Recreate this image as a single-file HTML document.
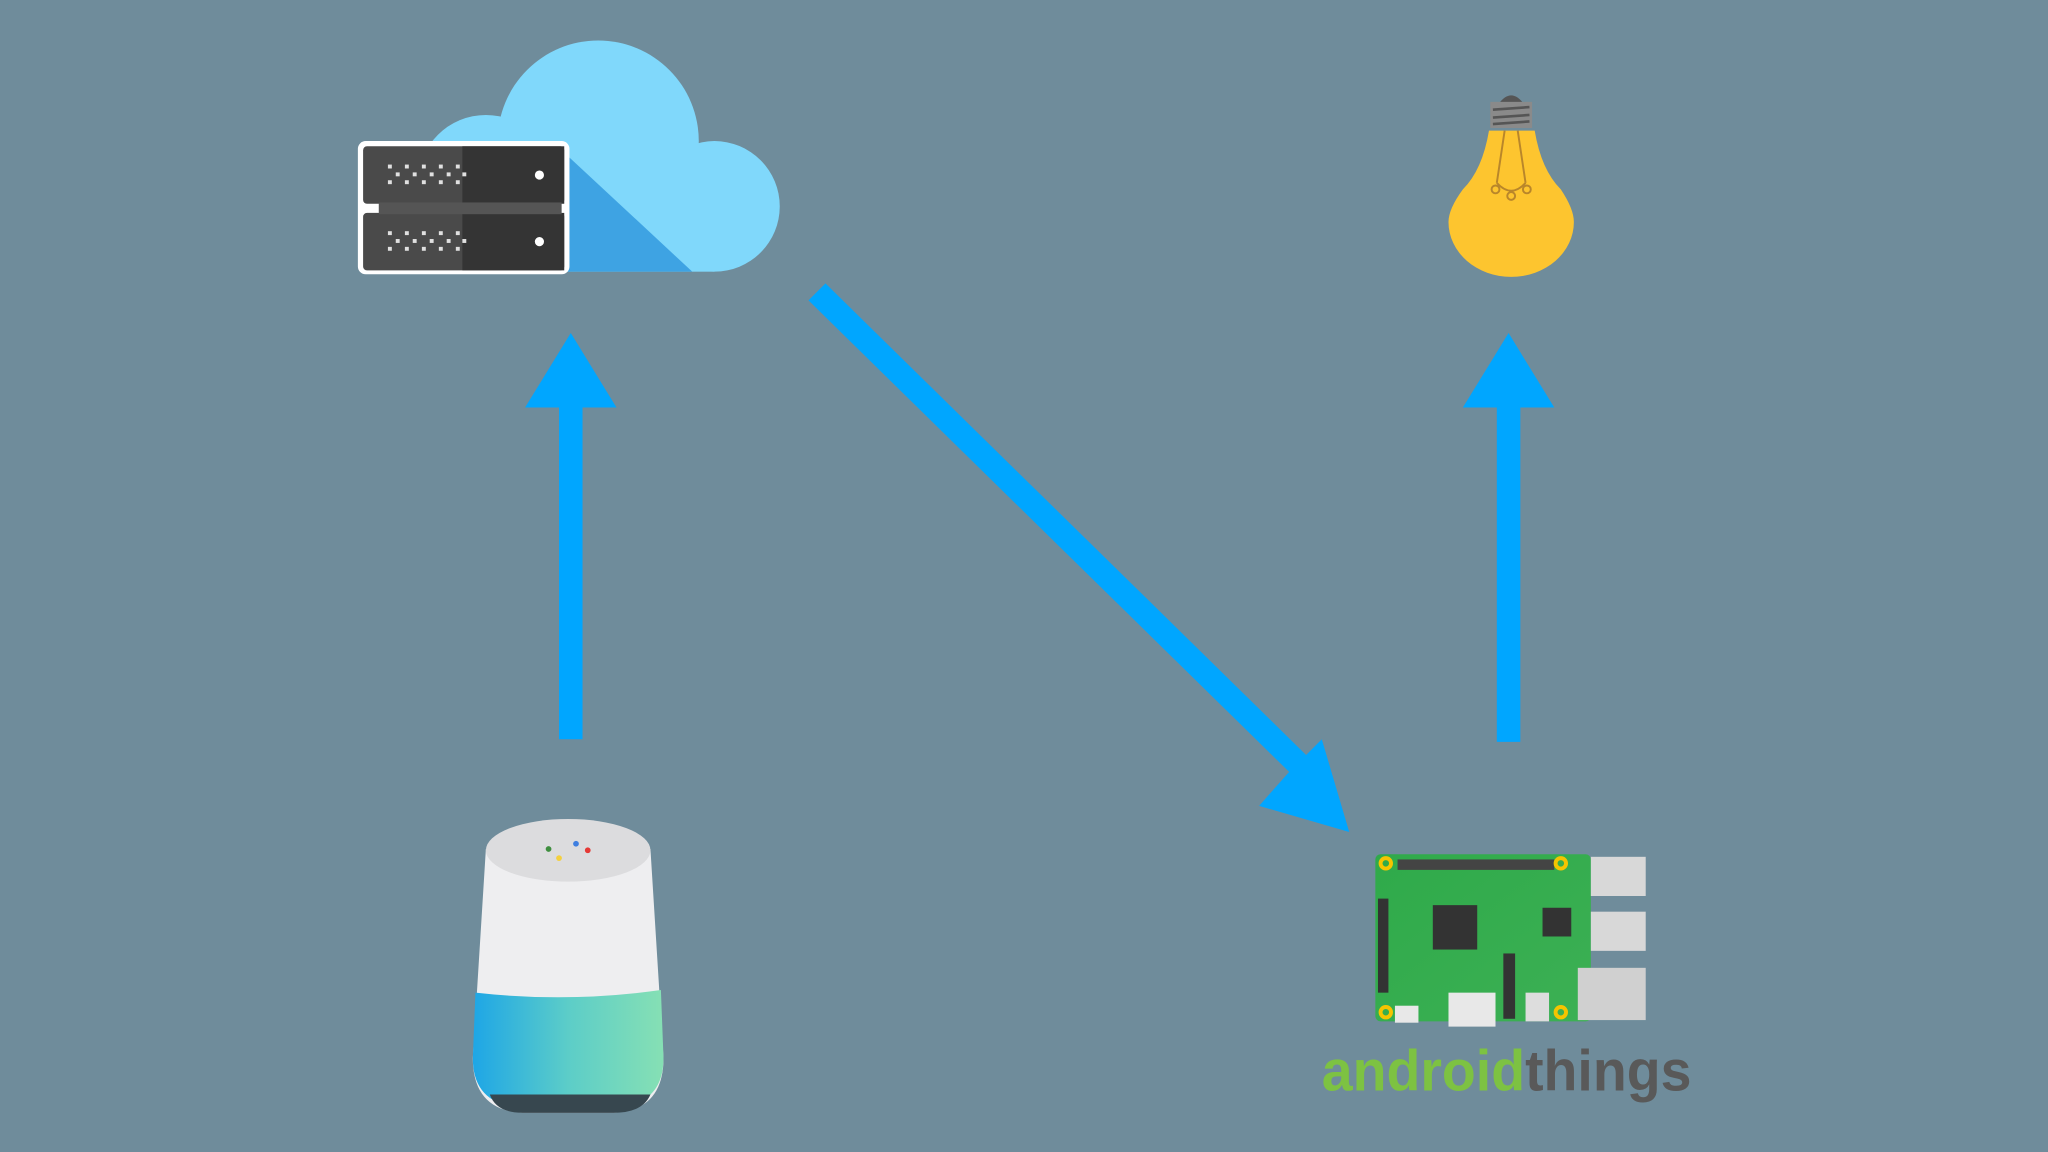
<!DOCTYPE html>
<html><head><meta charset="utf-8"><style>
html,body{margin:0;padding:0;background:#6f8c9b;}
svg{display:block;}
</style></head><body>
<svg width="2048" height="1152" viewBox="0 0 1568 882" xmlns="http://www.w3.org/2000/svg">
<defs>
<linearGradient id="gh" x1="0" x2="1" y1="0" y2="0">
<stop offset="0" stop-color="#1ea6e6"/><stop offset="0.5" stop-color="#5ccdc8"/><stop offset="1" stop-color="#86e0b4"/>
</linearGradient>
<linearGradient id="pcb" x1="0" x2="1" y1="0" y2="1">
<stop offset="0" stop-color="#2faa4a"/><stop offset="1" stop-color="#3cb054"/>
</linearGradient>
</defs>
<rect width="1568" height="882" fill="#6f8c9b"/>

<!-- cloud -->
<g fill="#80d8fb">
<circle cx="458" cy="108" r="77"/>
<circle cx="547" cy="158" r="50"/>
<circle cx="372" cy="140" r="52"/>
<rect x="330" y="140" width="217" height="68"/>
</g>
<polygon points="430,115 530,208 430,208" fill="#3ea3e3"/>

<!-- server -->
<g>
<rect x="274" y="108" width="162" height="102" rx="6" fill="#ffffff"/>
<rect x="278" y="112" width="154" height="44" rx="3" fill="#4a4a4a"/>
<rect x="354" y="112" width="78" height="44" fill="#343434"/>
<rect x="278" y="163" width="154" height="44" rx="3" fill="#4a4a4a"/>
<rect x="354" y="163" width="78" height="44" fill="#343434"/>
<rect x="290" y="155" width="140" height="9" fill="#555"/>
<circle cx="413" cy="134" r="3.5" fill="#fff"/>
<circle cx="413" cy="185" r="3.5" fill="#fff"/>
<g fill="#e0e0e0">
<rect x="297" y="126" width="3" height="3"/><rect x="310" y="126" width="3" height="3"/><rect x="323" y="126" width="3" height="3"/><rect x="336" y="126" width="3" height="3"/><rect x="349" y="126" width="3" height="3"/>
<rect x="303" y="132" width="3" height="3"/><rect x="316" y="132" width="3" height="3"/><rect x="329" y="132" width="3" height="3"/><rect x="342" y="132" width="3" height="3"/><rect x="354" y="132" width="3" height="3"/>
<rect x="297" y="138" width="3" height="3"/><rect x="310" y="138" width="3" height="3"/><rect x="323" y="138" width="3" height="3"/><rect x="336" y="138" width="3" height="3"/><rect x="349" y="138" width="3" height="3"/>
<rect x="297" y="177" width="3" height="3"/><rect x="310" y="177" width="3" height="3"/><rect x="323" y="177" width="3" height="3"/><rect x="336" y="177" width="3" height="3"/><rect x="349" y="177" width="3" height="3"/>
<rect x="303" y="183" width="3" height="3"/><rect x="316" y="183" width="3" height="3"/><rect x="329" y="183" width="3" height="3"/><rect x="342" y="183" width="3" height="3"/><rect x="354" y="183" width="3" height="3"/>
<rect x="297" y="189" width="3" height="3"/><rect x="310" y="189" width="3" height="3"/><rect x="323" y="189" width="3" height="3"/><rect x="336" y="189" width="3" height="3"/><rect x="349" y="189" width="3" height="3"/>
</g>
</g>

<!-- bulb -->
<g>
<path d="M1147 80 Q1157 66 1167 80 Z" fill="#555"/>
<rect x="1141" y="78" width="32" height="20" fill="#8a8a8a"/>
<path d="M1143 84 L1171 82 M1143 90 L1171 88 M1143 95 L1171 93" stroke="#555" stroke-width="2"/>
<path d="M1140 100 L1175 100 Q1180 130 1195 145 Q1205 160 1205 170 A48 42 0 0 1 1109 170 Q1109 160 1120 145 Q1135 130 1140 100 Z" fill="#fdc52f"/>
<path d="M1152 100 L1146 140 M1162 100 L1168 140 M1146 140 Q1157 152 1168 140" stroke="#b9862a" stroke-width="1.5" fill="none"/>
<circle cx="1145" cy="145" r="3" fill="none" stroke="#b9862a" stroke-width="1.5"/>
<circle cx="1169" cy="145" r="3" fill="none" stroke="#b9862a" stroke-width="1.5"/>
<circle cx="1157" cy="150" r="3" fill="none" stroke="#b9862a" stroke-width="1.5"/>
</g>

<!-- arrows -->
<g fill="#00a6ff">
<rect x="428" y="308" width="18" height="258"/>
<polygon points="402,312 437,255 472,312"/>
<rect x="1146" y="308" width="18" height="260"/>
<polygon points="1120,312 1155,255 1190,312"/>
<polygon points="619,230 632,217 1000,578 1012,566 1033,637 964,617 987,591"/>
</g>

<!-- google home -->
<g>
<path d="M372 650 L362 810 Q362 850 400 852 L470 852 Q508 850 508 810 L498 650 Z" fill="#eeeef0"/>
<path d="M364 760 Q435 768 506 758 L508 810 Q508 846 470 848 L400 848 Q362 846 362 810 Z" fill="url(#gh)"/>
<path d="M375 838 Q380 852 400 852 L470 852 Q492 852 498 838 Z" fill="#37474f"/>
<ellipse cx="435" cy="651" rx="63" ry="24" fill="#dcdcde"/>
<circle cx="420" cy="650" r="2.2" fill="#3e8e3e"/>
<circle cx="441" cy="646" r="2.2" fill="#3f7fe0"/>
<circle cx="450" cy="651" r="2.2" fill="#e53935"/>
<circle cx="428" cy="657" r="2.2" fill="#f4d03f"/>
</g>

<!-- raspberry pi -->
<g>
<rect x="1053" y="654" width="165" height="128" rx="4" fill="url(#pcb)"/>
<rect x="1070" y="658" width="120" height="8" fill="#444"/>
<rect x="1097" y="693" width="34" height="34" fill="#333"/>
<rect x="1181" y="695" width="22" height="22" fill="#333"/>
<rect x="1055" y="688" width="8" height="72" fill="#333"/>
<rect x="1151" y="730" width="9" height="50" fill="#333"/>
<rect x="1218" y="656" width="42" height="30" fill="#d8d8d8"/>
<rect x="1218" y="698" width="42" height="30" fill="#d8d8d8"/>
<rect x="1208" y="741" width="52" height="40" fill="#d0d0d0"/>
<rect x="1109" y="760" width="36" height="26" fill="#e8e8e8"/>
<rect x="1168" y="760" width="18" height="22" fill="#ddd"/>
<rect x="1068" y="770" width="18" height="13" fill="#e8e8e8"/>
<g fill="none" stroke="#f5c400" stroke-width="3">
<circle cx="1061" cy="661" r="4"/><circle cx="1195" cy="661" r="4"/>
<circle cx="1061" cy="775" r="4"/><circle cx="1195" cy="775" r="4"/>
</g>
</g>

<text x="1012" y="835" font-family="Liberation Sans, sans-serif" font-size="44" font-weight="bold" textLength="283" lengthAdjust="spacingAndGlyphs"><tspan fill="#7dc242">android</tspan><tspan fill="#595959">things</tspan></text>
</svg>
</body></html>
